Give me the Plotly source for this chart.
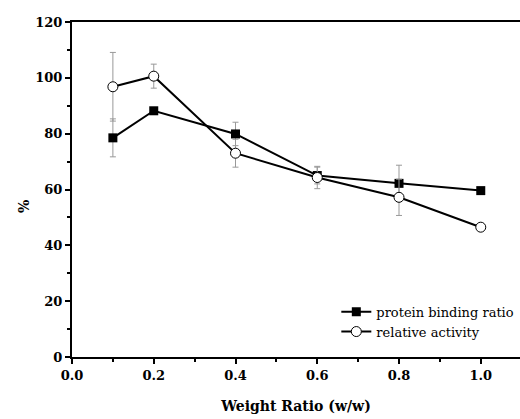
import plotly.graph_objects as go

x = [0.1, 0.2, 0.4, 0.6, 0.8, 1.0]
protein = [78.5, 88.2, 79.9, 65.0, 62.2, 59.6]
protein_err = [6.8, 1.0, 4.2, 3.0, 6.5, 0.8]
activity = [96.8, 100.6, 73.0, 64.3, 57.2, 46.5]
activity_err = [12.3, 4.3, 5.0, 4.0, 6.5, 1.0]

font_family = "DejaVu Serif"

fig = go.Figure()
fig.add_trace(go.Scatter(
    x=x, y=protein, name="protein binding ratio", mode="lines+markers",
    line=dict(color="black", width=2),
    marker=dict(symbol="square", size=9, color="black"),
    error_y=dict(type="data", array=protein_err, color="#999999", thickness=1, width=3),
))
fig.add_trace(go.Scatter(
    x=x, y=activity, name="relative activity", mode="lines+markers",
    line=dict(color="black", width=2),
    marker=dict(symbol="circle", size=10, color="white", line=dict(color="black", width=1)),
    error_y=dict(type="data", array=activity_err, color="#999999", thickness=1, width=3),
))

fig.add_annotation(
    text="<b>%</b>", xref="paper", yref="paper", x=-0.13, y=0.45,
    showarrow=False, textangle=-90, font=dict(size=14, family=font_family),
)

fig.update_layout(
    width=520, height=419,
    margin=dict(l=72, r=0, t=22, b=62),
    paper_bgcolor="white", plot_bgcolor="white",
    font=dict(family=font_family, size=12, color="black"),
    showlegend=True,
    legend=dict(x=0.59, y=0.18, xanchor="left", yanchor="top",
                bgcolor="rgba(0,0,0,0)", font=dict(size=13, family=font_family),
                tracegroupgap=0, itemwidth=30),
    xaxis=dict(
        range=[0, 1.096], tickmode="array", tickvals=[0, 0.2, 0.4, 0.6, 0.8, 1.0],
        ticktext=["<b>0.0</b>", "<b>0.2</b>", "<b>0.4</b>", "<b>0.6</b>", "<b>0.8</b>", "<b>1.0</b>"],
        ticks="outside", ticklen=5, tickwidth=2, tickcolor="black",
        minor=dict(dtick=0.1, ticks="outside", ticklen=3, tickwidth=2, tickcolor="black"),
        showline=True, linewidth=2, linecolor="black", mirror=True,
        showgrid=False, zeroline=False,
        tickfont=dict(size=13, family=font_family),
        title=dict(text="<b>Weight Ratio (w/w)</b>", font=dict(size=14, family=font_family), standoff=20),
    ),
    yaxis=dict(
        range=[0, 120], tickmode="array", tickvals=[0, 20, 40, 60, 80, 100, 120],
        ticktext=["<b>0</b>", "<b>20</b>", "<b>40</b>", "<b>60</b>", "<b>80</b>", "<b>100</b>", "<b>120</b>"],
        ticks="outside", ticklen=5, tickwidth=2, tickcolor="black",
        minor=dict(dtick=10, ticks="outside", ticklen=3, tickwidth=2, tickcolor="black"),
        showline=True, linewidth=2, linecolor="black", mirror=False,
        showgrid=False, zeroline=False,
        tickfont=dict(size=13, family=font_family),
    ),
)

fig.write_html("out.html")
